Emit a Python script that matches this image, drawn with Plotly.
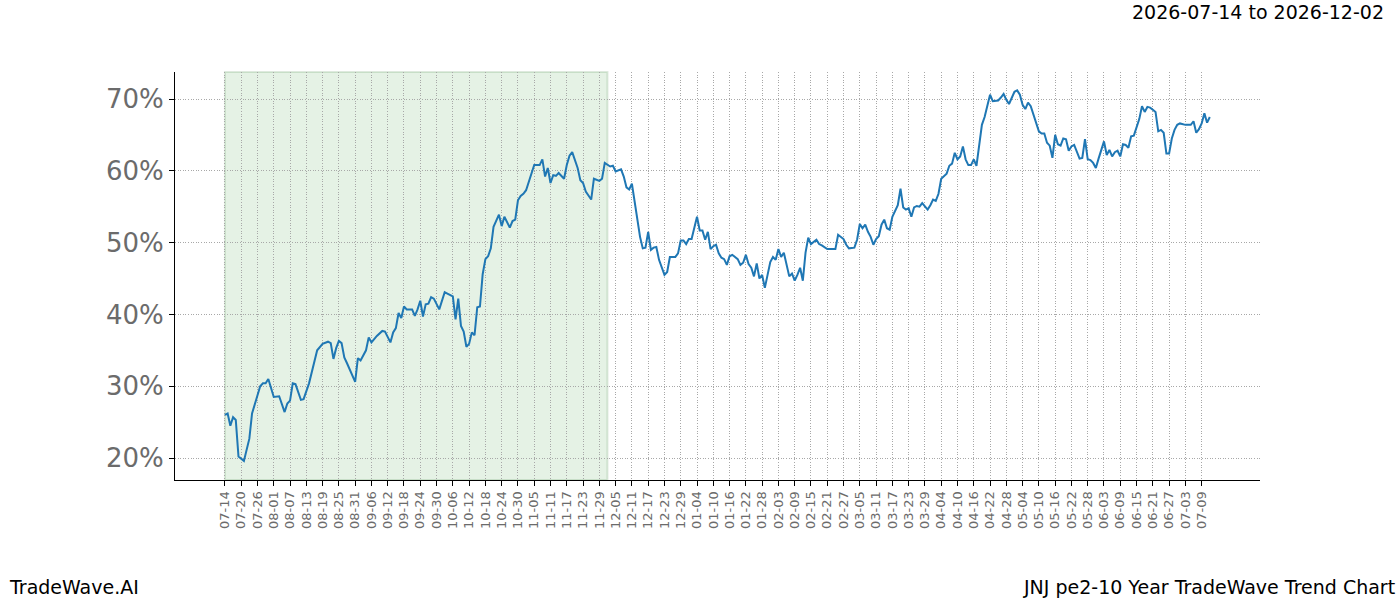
import pandas as pd
import plotly.graph_objects as go

# ---------------- data ----------------
start_date = "2026-07-14"
shade_start = "2026-07-14"
shade_end = "2026-12-02"
title_text = "2026-07-14 to 2026-12-02"
footer_left = "TradeWave.AI"
footer_right = "JNJ pe2-10 Year TradeWave Trend Chart"

day_offsets = [
    0, 1, 2, 3, 4, 5, 7, 9, 10, 11, 13, 14, 15, 16, 18, 20, 22, 23, 24, 25, 26, 28, 29, 31, 32, 34, 36,
    38, 39, 40, 41, 42, 43, 44, 45, 47, 48, 49, 50, 52, 53, 54, 56, 58, 59, 61, 62, 63, 64, 65, 66, 67,
    69, 70, 71, 72, 73, 74, 75, 76, 77, 79, 81, 82, 84, 85, 86, 87, 88, 89, 90, 91, 92, 93, 94, 95, 96,
    97, 98, 99, 101, 102, 103, 105, 106, 107, 108, 109, 110, 111, 114, 116, 117, 118, 119, 120, 121,
    122, 123, 125, 126, 127, 128, 130, 131, 132, 133, 135, 136, 138, 139, 140, 142, 143, 144, 146, 147,
    148, 149, 150, 151, 152, 153, 154, 155, 156, 157, 158, 159, 160, 162, 163, 164, 165, 166, 167, 168,
    169, 170, 171, 172, 174, 175, 176, 177, 178, 179, 180, 181, 182, 183, 184, 185, 186, 187, 189, 190,
    191, 192, 193, 194, 195, 196, 197, 198, 199, 201, 202, 203, 204, 205, 206, 207, 208, 209, 210, 211,
    212, 213, 214, 215, 216, 218, 219, 220, 222, 224, 225, 226, 228, 229, 230, 232, 233, 234, 235, 236,
    237, 238, 239, 240, 241, 242, 243, 244, 245, 246, 248, 249, 250, 251, 252, 253, 254, 255, 256, 257,
    258, 259, 260, 261, 262, 263, 264, 265, 266, 267, 268, 269, 270, 271, 272, 273, 274, 275, 276, 277,
    278, 279, 280, 281, 282, 283, 284, 285, 286, 287, 288, 289, 291, 292, 293, 294, 295, 296, 297, 298,
    299, 300, 301, 302, 303, 304, 305, 306, 307, 308, 309, 310, 311, 312, 313, 315, 316, 317, 318, 319,
    320, 321, 322, 324, 325, 326, 327, 328, 329, 330, 331, 332, 333, 334, 335, 336, 337, 338, 339, 340,
    341, 342, 343, 344, 345, 346, 347, 348, 349, 350, 351, 352, 354, 356, 357, 358, 359, 360, 361, 362,
    363,
]

pe_values = [
    26.0, 26.2, 24.5, 25.7, 25.3, 20.2, 19.6, 22.7, 26.2, 27.6, 30.0, 30.4, 30.4, 31.0, 28.5, 28.6, 26.4,
    27.6, 28.0, 30.4, 30.3, 28.1, 28.2, 30.4, 31.8, 35.0, 35.9,
    36.2, 36.0, 33.8, 35.3, 36.3, 36.0, 34.0, 33.2, 31.3, 30.6, 33.9, 33.6, 35.0, 36.8, 36.1, 37.0, 37.7,
    37.6, 36.1, 37.5, 38.1, 40.2, 39.5, 41.1, 40.7,
    40.7, 39.8, 40.7, 41.9, 39.7, 41.4, 41.5, 42.4, 42.2, 40.7, 43.1, 42.9, 42.5, 39.3, 42.2, 38.4, 37.6,
    35.5, 35.9, 37.5, 37.1, 41.0, 41.1, 45.6, 47.7,
    48.1, 49.2, 52.2, 53.9, 52.3, 53.6, 52.1, 53.0, 53.2, 55.9, 56.5, 56.8, 57.3, 60.8, 60.8, 61.6, 59.2,
    60.4, 58.3, 59.4,
    59.3, 59.7, 58.9, 60.8, 62.1, 62.6, 60.4, 58.7, 58.3, 57.1, 56.0, 58.9, 58.6, 58.9, 61.1, 60.6, 60.7,
    59.9, 60.2, 59.2,
    57.7, 57.4, 58.2, 55.6, 52.7, 50.8, 49.2, 49.3, 51.5, 49.0, 49.3, 49.4, 47.6, 45.5, 45.9, 48.0, 48.0,
    48.0, 48.5, 50.3,
    50.3, 49.8, 50.5, 50.5, 53.6, 51.7, 51.7, 50.4, 51.5, 49.1, 49.5, 49.7, 48.5, 47.9, 47.7, 46.9, 48.1,
    48.3, 47.7, 46.9,
    47.2, 48.3, 47.0, 46.5, 45.3, 47.1, 45.0, 45.5, 43.7, 47.3, 48.0, 47.6, 49.1, 48.0, 48.6, 46.9, 45.3,
    45.7, 44.7, 45.5,
    46.5, 44.7, 48.6, 50.7, 49.8, 50.4, 49.8, 49.6, 49.1, 49.1, 49.1, 51.1, 50.5, 49.7, 49.2, 49.3, 50.4,
    52.6, 52.0, 52.5,
    51.5, 50.8, 49.7, 50.5, 50.9, 52.5, 53.2, 52.0, 51.8, 53.6, 55.2, 57.5, 54.9, 54.6, 54.8, 53.6, 54.9,
    55.1, 55.0, 55.5,
    55.0, 54.6, 55.2, 56.0, 55.8, 56.8, 58.9, 59.2, 59.6, 60.7, 61.0, 62.5, 61.6, 62.0, 63.4, 61.6, 60.8,
    60.8, 61.6, 60.7,
    63.4, 66.4, 67.5, 68.9, 70.6, 69.7, 69.7, 69.8, 70.2, 70.7, 69.9, 69.3, 71.0, 71.2, 70.6, 69.2, 68.6,
    69.5, 69.0, 67.8,
    66.9, 65.5, 65.2, 65.2, 63.9, 63.5, 61.8, 65.0, 63.7, 63.5, 64.5, 64.4, 62.8, 63.4, 63.6, 61.7, 61.8,
    64.4, 61.6, 61.5,
    61.1, 60.4, 61.7, 64.1, 62.2, 62.9, 62.0, 62.6, 62.8, 62.0, 63.7, 63.6, 63.2, 64.8, 64.9, 66.2, 67.2,
    69.0, 68.2, 68.9,
    68.8, 68.5, 68.2, 65.5, 65.7, 65.3, 62.4, 62.4, 64.5, 65.7, 66.4, 66.6, 66.4, 66.4, 66.9, 65.3, 65.8,
    66.6, 68.0, 66.7,
    67.5,
]

tick_count = 61
tick_step_days = 6
y_ticks = [20, 30, 40, 50, 60, 70]

# ---------------- build ----------------
start = pd.Timestamp(start_date)
dates = [start + pd.Timedelta(days=d) for d in day_offsets]
tick_dates = [start + pd.Timedelta(days=tick_step_days * i) for i in range(tick_count)]
tick_labels = [d.strftime("%m-%d") for d in tick_dates]
y_labels = [f"{v}%" for v in y_ticks]

x_range = [start - pd.Timedelta(days=18.4), start + pd.Timedelta(days=381.5)]

font_family = "DejaVu Sans"
grid_style = dict(showgrid=True, gridcolor="#a8a8a8", gridwidth=0.8, griddash="1px,1.6px")

fig = go.Figure()
fig.add_trace(go.Scatter(
    x=dates, y=pe_values, mode="lines",
    line=dict(color="#1f77b4", width=2),
    hoverinfo="skip", showlegend=False,
))

fig.add_shape(
    type="rect", xref="x", yref="paper",
    x0=pd.Timestamp(shade_start), x1=pd.Timestamp(shade_end), y0=0, y1=1,
    fillcolor="rgba(0,128,0,0.1)",
    line=dict(color="rgba(0,90,0,0.13)", width=2),
    layer="below",
)

fig.update_layout(
    width=1400, height=600,
    margin=dict(l=175, r=140, t=72, b=120),
    paper_bgcolor="white", plot_bgcolor="white",
    font=dict(family=font_family),
    showlegend=False,
    xaxis=dict(
        type="date", range=x_range,
        tickmode="array", tickvals=tick_dates, ticktext=tick_labels,
        tickangle=-90, tickfont=dict(size=13, color="#6b6b6b", family=font_family),
        showline=True, linecolor="black", linewidth=1,
        ticks="outside", ticklen=5, tickcolor="black", tickwidth=1,
        zeroline=False, **grid_style,
    ),
    yaxis=dict(
        range=[16.94, 73.76],
        tickmode="array", tickvals=y_ticks, ticktext=y_labels,
        tickfont=dict(size=26, color="#6b6b6b", family=font_family),
        showline=True, linecolor="black", linewidth=1,
        ticks="outside", ticklen=5, tickcolor="black", tickwidth=1,
        zeroline=False, **grid_style,
    ),
)

fig.add_annotation(
    text=title_text, xref="paper", yref="paper",
    x=(1386 - 175) / 1085, y=(480 - 12) / 408,
    xanchor="right", yanchor="middle", showarrow=False,
    font=dict(size=19, color="black", family=font_family),
)
fig.add_annotation(
    text=footer_left, xref="paper", yref="paper",
    x=(7 - 175) / 1085, y=(480 - 587) / 408,
    xanchor="left", yanchor="middle", showarrow=False,
    font=dict(size=19, color="black", family=font_family),
)
fig.add_annotation(
    text=footer_right, xref="paper", yref="paper",
    x=(1397 - 175) / 1085, y=(480 - 587) / 408,
    xanchor="right", yanchor="middle", showarrow=False,
    font=dict(size=19, color="black", family=font_family),
)

fig.write_html("out.html")
